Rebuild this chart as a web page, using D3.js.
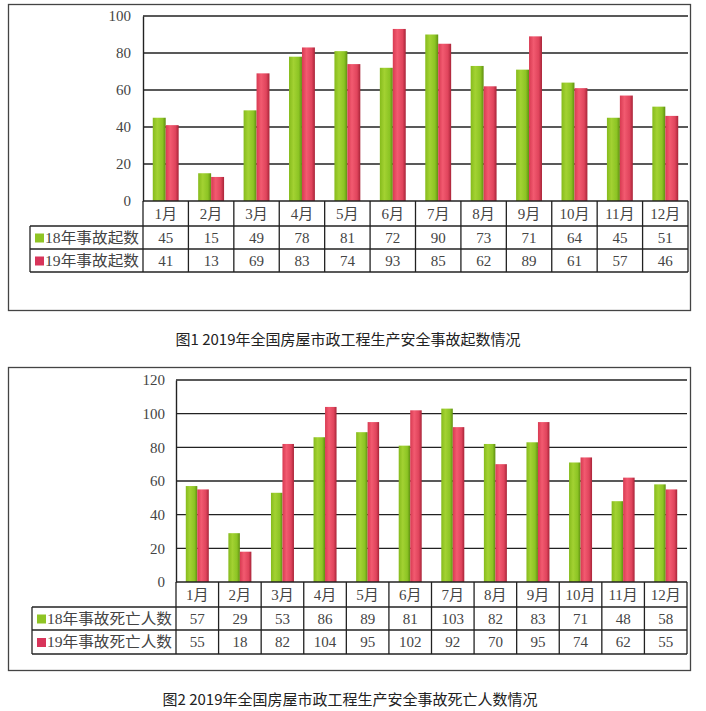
<!DOCTYPE html>
<html><head><meta charset="utf-8">
<script src="https://cdn.jsdelivr.net/npm/d3@7"></script>
<style>
body{margin:0;background:#fff;}
svg{display:block;}
</style></head>
<body>
<svg id="c" width="706" height="711"></svg>
<script>
const months = ["1月","2月","3月","4月","5月","6月","7月","8月","9月","10月","11月","12月"];
const seriesNames1 = ["18年事故起数","19年事故起数"];
const accidents2018 = [45,15,49,78,81,72,90,73,71,64,45,51];
const accidents2019 = [41,13,69,83,74,93,85,62,89,61,57,46];
const ticks1 = [0,20,40,60,80,100];
const seriesNames2 = ["18年事故死亡人数","19年事故死亡人数"];
const deaths2018 = [57,29,53,86,89,81,103,82,83,71,48,58];
const deaths2019 = [55,18,82,104,95,102,92,70,95,74,62,55];
const ticks2 = [0,20,40,60,80,100,120];
const titles = ["图1 2019年全国房屋市政工程生产安全事故起数情况","图2 2019年全国房屋市政工程生产安全事故死亡人数情况"];

const svg = d3.select("#c");
const defs = svg.append("defs");
function grad(id, stops){
  const g = defs.append("linearGradient").attr("id",id).attr("x1","0").attr("x2","1").attr("y1","0").attr("y2","0");
  stops.forEach(s=>g.append("stop").attr("offset",s[0]).attr("stop-color",s[1]));
}
grad("gGreen",[[0,"#86bb1c"],[0.35,"#a3d232"],[0.75,"#8cc424"],[1,"#5f8f10"]]);
grad("gRed",[[0,"#d83a52"],[0.35,"#f25a70"],[0.75,"#e0445c"],[1,"#a82438"]]);
const colors = ["url(#gGreen)","url(#gRed)"];
const legendColors = ["#8fc424","#d8345a"];

const serif = "'Liberation Serif','DejaVu Serif','Noto Sans CJK SC',serif";

function drawChart(cfg){
  const g = svg.append("g");
  g.append("rect").attr("x",cfg.frame[0]+0.5).attr("y",cfg.frame[1]+0.5)
    .attr("width",cfg.frame[2]-cfg.frame[0]).attr("height",cfg.frame[3]-cfg.frame[1])
    .attr("fill","#fff").attr("stroke","#444").attr("stroke-width",1.3);
  const x = d3.scaleBand().domain(cfg.cats).range([cfg.left,cfg.right]);
  const y = d3.scaleLinear().domain([0,d3.max(cfg.ticks)]).range([cfg.y0,cfg.ytop]);
  const xs = d3.scaleBand().domain([0,1]).range([0,x.bandwidth()*cfg.pair]);
  const off = (x.bandwidth()-x.bandwidth()*cfg.pair)/2;
  g.append("g").selectAll("line").data(cfg.ticks.filter(t=>t>0)).join("line")
    .attr("x1",cfg.left).attr("x2",cfg.right)
    .attr("y1",d=>y(d)).attr("y2",d=>y(d))
    .attr("stroke","#222").attr("stroke-width",1.4);
  const yAxis = d3.axisLeft(y).tickValues(cfg.ticks).tickSize(0).tickPadding(cfg.tickPad);
  const ya = g.append("g").attr("transform",`translate(${cfg.left},0)`).call(yAxis);
  ya.select(".domain").attr("stroke","#222").attr("stroke-width",1.4);
  ya.selectAll("text").attr("font-family",serif).attr("font-size",15).attr("fill","#444");
  const series = [cfg.s1,cfg.s2];
  series.forEach((vals,si)=>{
    g.append("g").selectAll("rect").data(vals).join("rect")
      .attr("x",(d,i)=>x(cfg.cats[i])+off+xs(si))
      .attr("width",xs.bandwidth())
      .attr("y",d=>y(d)).attr("height",d=>cfg.y0-y(d))
      .attr("fill",colors[si]);
  });
  const r = cfg.rows;
  const t = g.append("g").attr("stroke","#222").attr("stroke-width",1.3);
  t.append("line").attr("x1",cfg.left).attr("x2",cfg.right).attr("y1",r[0]).attr("y2",r[0]);
  [r[1],r[2],r[3]].forEach(yy=>t.append("line").attr("x1",cfg.tleft).attr("x2",cfg.right).attr("y1",yy).attr("y2",yy));
  t.append("line").attr("x1",cfg.tleft).attr("x2",cfg.tleft).attr("y1",r[1]).attr("y2",r[3]);
  const bounds = cfg.cats.map(c=>x(c)).concat([cfg.right]);
  t.selectAll("line.v").data(bounds).join("line").attr("class","v")
    .attr("x1",d=>d).attr("x2",d=>d).attr("y1",r[0]).attr("y2",r[3]);
  const tx = g.append("g").attr("font-family",serif).attr("font-size",15).attr("fill","#444").attr("text-anchor","middle");
  tx.selectAll("text.m").data(cfg.cats).join("text").attr("class","m")
    .attr("x",d=>x(d)+x.bandwidth()/2).attr("y",(r[0]+r[1])/2).attr("dy","0.36em").text(d=>d);
  series.forEach((vals,si)=>{
    tx.selectAll("text.v"+si).data(vals).join("text").attr("class","v"+si)
      .attr("x",(d,i)=>x(cfg.cats[i])+x.bandwidth()/2).attr("y",(r[si+1]+r[si+2])/2).attr("dy","0.36em").text(d=>d);
    g.append("rect").attr("x",cfg.tleft+5).attr("y",(r[si+1]+r[si+2])/2-4).attr("width",9).attr("height",9)
      .attr("fill",legendColors[si]);
    g.append("text").attr("x",cfg.tleft+15).attr("y",(r[si+1]+r[si+2])/2).attr("dy","0.36em")
      .attr("font-family",serif).attr("font-size",cfg.legendSize).attr("fill","#444")
      .attr("textLength",cfg.left-cfg.tleft-19).attr("lengthAdjust","spacingAndGlyphs")
      .text(cfg.names[si]);
  });
  svg.append("text").attr("x",cfg.capX).attr("y",cfg.capY).attr("text-anchor","middle").attr("dy","0.36em")
    .attr("font-family","'Noto Sans CJK SC','Noto Sans',sans-serif").attr("font-size",15).attr("fill","#222")
    .text(cfg.caption);
}

drawChart({frame:[8,4,690,310], left:143, right:688, y0:201, ytop:16, ticks:ticks1,
  cats:months, s1:accidents2018, s2:accidents2019, names:seriesNames1, pair:0.57,
  rows:[201,226,249,272], tleft:30, tickPad:12, legendSize:15,
  caption:titles[0], capX:348, capY:340});
drawChart({frame:[8,367,690,670], left:176, right:687, y0:582, ytop:380, ticks:ticks2,
  cats:months, s1:deaths2018, s2:deaths2019, names:seriesNames2, pair:0.54,
  rows:[582,607,630,654], tleft:32, tickPad:11, legendSize:15,
  caption:titles[1], capX:350, capY:700});
</script>
</body></html>
